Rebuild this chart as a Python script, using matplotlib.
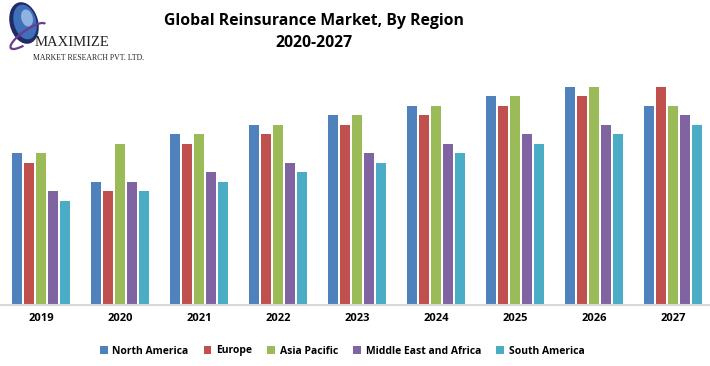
import numpy as np
import matplotlib.pyplot as plt
from matplotlib.patches import Ellipse, Arc

years = ["2019", "2020", "2021", "2022", "2023", "2024", "2025", "2026", "2027"]
regions = ["North America", "Europe", "Asia Pacific", "Middle East and Africa", "South America"]
north_america = [16, 13, 18, 19, 20, 21, 22, 23, 21]
europe = [15, 12, 17, 18, 19, 20, 21, 22, 23]
asia_pacific = [16, 17, 18, 19, 20, 21, 22, 23, 21]
mea = [12, 13, 14, 15, 16, 17, 18, 19, 20]
south_america = [11, 12, 13, 14, 15, 16, 17, 18, 19]
colors = ["#4F81BD", "#C0504D", "#9BBB59", "#8064A2", "#4BACC6"]

FONT = ["Open Sans", "DejaVu Sans"]
W, H = 710, 366
fig = plt.figure(figsize=(W / 100, H / 100), dpi=100)
fig.patch.set_facecolor("white")

# axes placed in pixel terms: left 1, right 710, top 70, bottom 305
ax = fig.add_axes([1 / W, 1 - 305 / H, 709 / W, 235 / H])
x = np.arange(len(years))
pitch = 0.152
width = 0.127
series = [north_america, europe, asia_pacific, mea, south_america]
for i, (vals, name, c) in enumerate(zip(series, regions, colors)):
    ax.bar(x + (i - 2) * pitch, vals, width=width, color=c, label=name)

ax.set_xlim(-0.506, 8.47)
ax.set_ylim(0, 24.74)
ax.set_yticks([])
ax.set_xticks(x)
ax.set_xticklabels(years, fontsize=8, fontweight="bold", family=FONT)
ax.tick_params(axis="x", length=0, pad=6)
for s in ["top", "right", "left"]:
    ax.spines[s].set_visible(False)
ax.spines["bottom"].set_color("#D9D9D9")
ax.spines["bottom"].set_linewidth(1.5)

fig.legend(loc="center", bbox_to_anchor=(342 / W, 1 - 351 / H), ncol=5, frameon=False,
           handlelength=0.75, handleheight=0.75, handletextpad=0.45, columnspacing=1.45,
           prop={"family": FONT, "weight": "bold", "size": 7.5})

fig.text(314 / W, 1 - 21 / H, "Global Reinsurance Market, By Region", ha="center", va="center",
         fontsize=11.3, fontweight="bold", family=FONT)
fig.text(314 / W, 1 - 43 / H, "2020-2027", ha="center", va="center",
         fontsize=11.3, fontweight="bold", family=FONT)

# logo
lax = fig.add_axes([0, 1 - 70 / H, 160 / W, 70 / H])
lax.set_xlim(0, 160)
lax.set_ylim(70, 0)
lax.axis("off")
lax.add_patch(Ellipse((24, 23), 27, 41, angle=-15, color="#1F2A66"))
lax.add_patch(Ellipse((25, 22), 21, 34, angle=-15, color="#3E6FB8"))
lax.add_patch(Ellipse((27, 18), 10, 16, angle=-15, color="#8FB3E0"))
lax.add_patch(Arc((28, 36), 42, 12, angle=-35, theta1=150, theta2=360, ec="#6A3C8C", lw=1.6))
lax.text(35, 43, "MAXIMIZE", fontsize=10.5, family="Liberation Serif", color="#222222",
         va="center", ha="left")
lax.text(33, 58, "MARKET RESEARCH PVT. LTD.", fontsize=5.6, family="Liberation Serif",
         color="#222222", va="center", ha="left")

fig.savefig("out.png", dpi=100, facecolor="white")
